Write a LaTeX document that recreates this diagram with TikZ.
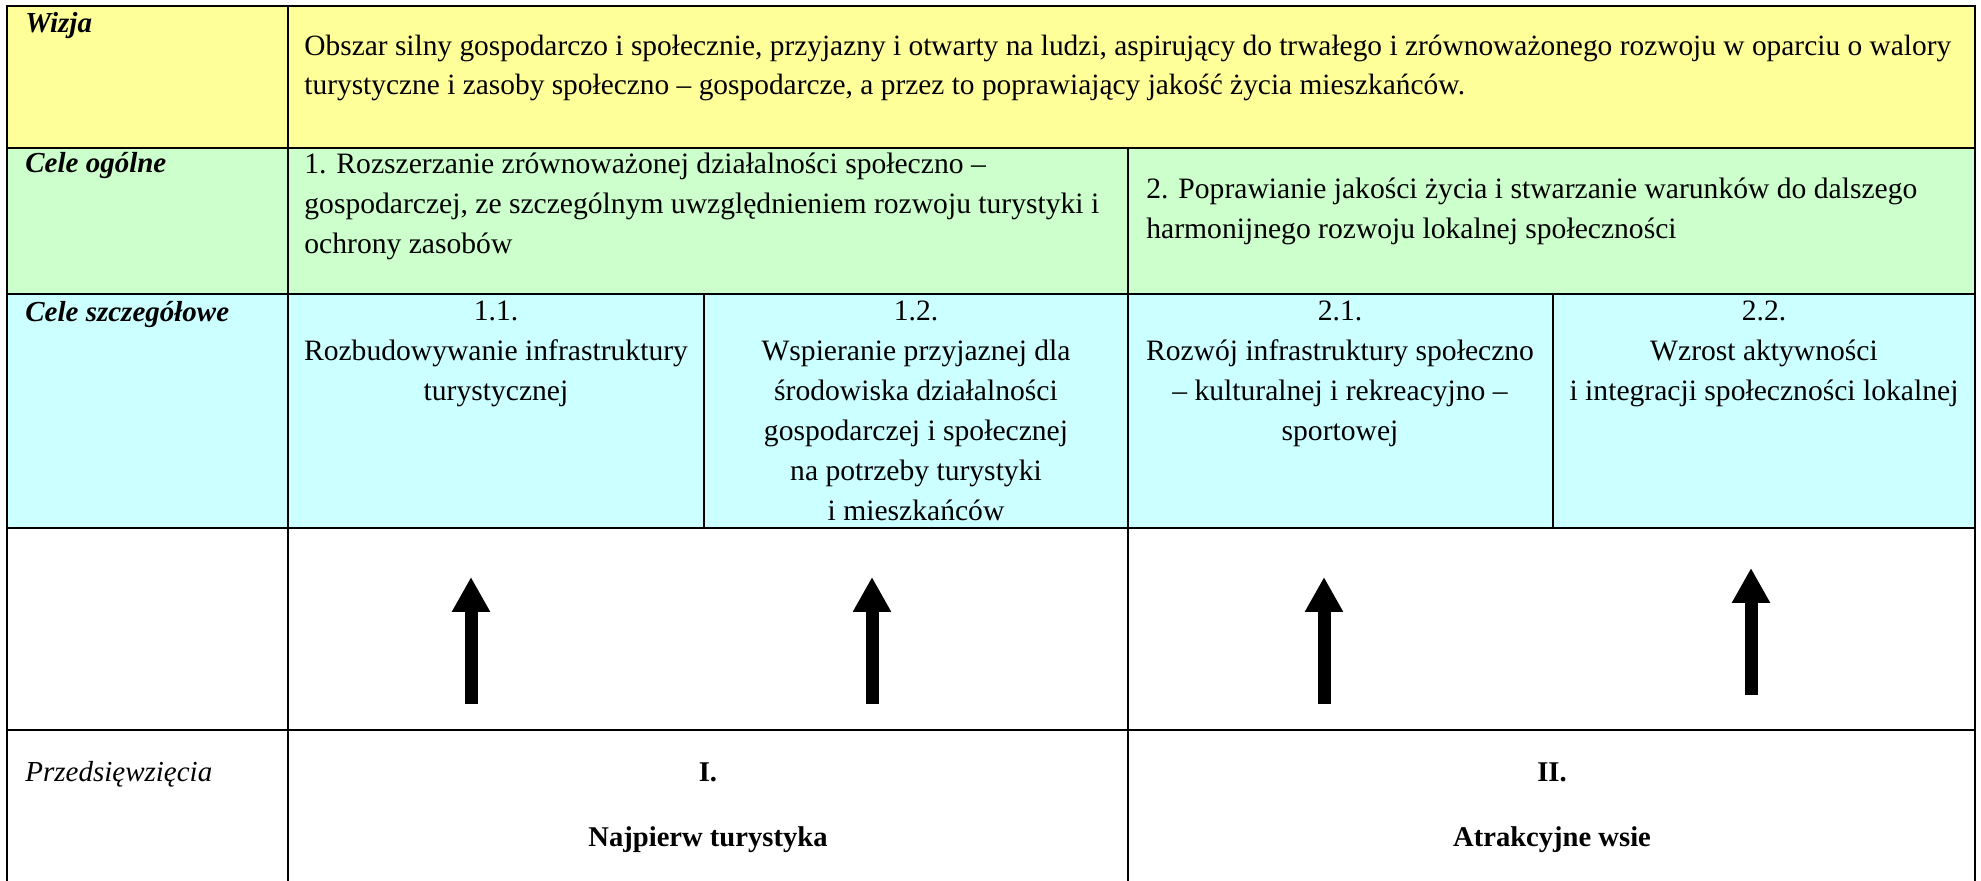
\documentclass[tikz,border=0pt]{standalone}
\usepackage{fontspec}
\setmainfont{Liberation Serif}
\usetikzlibrary{arrows.meta}
\definecolor{wizjafill}{HTML}{FFFF99}
\definecolor{celefill}{HTML}{CCFFCC}
\definecolor{szczfill}{HTML}{CCFFFF}
\begin{document}
\begin{tikzpicture}[x=0.5pt,y=-0.5pt,
  mainline/.style={line width=1.2pt,line cap=rect},
  subline/.style={line width=0.7pt},
  label/.style={anchor=base west,inner sep=0pt,font=\fontsize{14.5}{20}\selectfont\bfseries\itshape},
  para/.style={anchor=north west,inner sep=0pt,align=left,font=\fontsize{14.8}{20}\selectfont},
  cellc/.style={anchor=north,inner sep=0pt,align=center,font=\fontsize{14.8}{20}\selectfont},
  boldc/.style={anchor=base,inner sep=0pt,font=\fontsize{14.3}{20}\selectfont\bfseries},
  uparrow/.style={line width=6.5pt,-{Triangle[length=17.5pt,width=18pt]}}]
\useasboundingbox (0,0) rectangle (1981,881);
% fills
\fill[wizjafill] (7,6) rectangle (1975,148);
\fill[celefill] (7,148) rectangle (1975,294);
\fill[szczfill] (7,294) rectangle (1975,528);
% lines
\draw[mainline] (7,881) -- (7,6) -- (1975,6) -- (1975,881);
\foreach \yy in {148,294,528,730} \draw[mainline] (7,\yy) -- (1975,\yy);
\draw[mainline] (288,6) -- (288,881);
\draw[mainline] (1128,148) -- (1128,881);
\draw[subline] (704,294) -- (704,528);
\draw[subline] (1553,294) -- (1553,528);
% labels
\node[label] (wizja) at (25,33) {Wizja};
\node[label] (celeog) at (25,173) {Cele ogólne};
\node[label] (celesz) at (25,322) {Cele szczegółowe};
\node[label,font=\fontsize{14.5}{20}\selectfont\itshape] (przed) at (25,781) {Przedsięwzięcia};
% vision
\node[para,font=\fontsize{14.7}{19.5}\selectfont] (wtext) at (304,28) {\strut Obszar silny gospodarczo i społecznie, przyjazny i otwarty na ludzi, aspirujący do trwałego i zrównoważonego rozwoju w oparciu o walory\\turystyczne i zasoby społeczno – gospodarcze, a przez to poprawiający jakość życia mieszkańców.};
% general goals
\node[para] (cel1) at (304,145) {\strut 1. Rozszerzanie zrównoważonej działalności społeczno –\\gospodarczej, ze szczególnym uwzględnieniem rozwoju turystyki i\\ochrony zasobów};
\node[para] (cel2) at (1146,170) {\strut 2. Poprawianie jakości życia i stwarzanie warunków do dalszego\\harmonijnego rozwoju lokalnej społeczności};
% specific goals
\node[cellc] (c11) at (496,292) {\strut 1.1.\\Rozbudowywanie infrastruktury\\turystycznej};
\node[cellc] (c12) at (916,292) {\strut 1.2.\\Wspieranie przyjaznej dla\\środowiska działalności\\gospodarczej i społecznej\\na potrzeby turystyki\\ i mieszkańców};
\node[cellc] (c21) at (1340,292) {\strut 2.1.\\Rozwój infrastruktury społeczno\\– kulturalnej i rekreacyjno –\\sportowej};
\node[cellc] (c22) at (1764,292) {\strut 2.2.\\Wzrost aktywności\\i integracji społeczności lokalnej};
% arrows
\coordinate (a1s) at (471,704); \coordinate (a1e) at (471,577);
\coordinate (a2s) at (872,704); \coordinate (a2e) at (872,577);
\coordinate (a3s) at (1324,704); \coordinate (a3e) at (1324,577);
\coordinate (a4s) at (1751,695); \coordinate (a4e) at (1751,568);
\draw[uparrow] (a1s) -- (a1e);
\draw[uparrow] (a2s) -- (a2e);
\draw[uparrow] (a3s) -- (a3e);
\draw[uparrow] (a4s) -- (a4e);
% projects
\node[boldc] (p1) at (708,781) {I.};
\node[boldc] (p1t) at (708,846) {Najpierw turystyka};
\node[boldc] (p2) at (1552,781) {II.};
\node[boldc] (p2t) at (1552,846) {Atrakcyjne wsie};
\end{tikzpicture}
\end{document}
